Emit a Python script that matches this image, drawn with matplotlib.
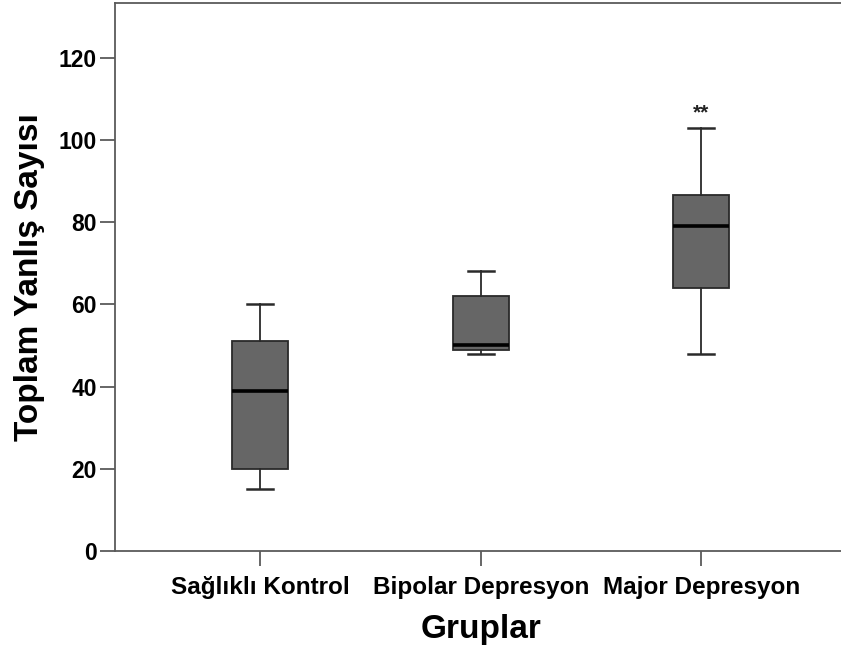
import matplotlib
matplotlib.use("Agg")
import matplotlib.pyplot as plt

plt.rcParams['font.family'] = ['Liberation Sans', 'DejaVu Sans']

# group summaries (box plot statistics)
groups = ['Sağlıklı Kontrol', 'Bipolar Depresyon', 'Major Depresyon']
whis_low = [15, 48, 48]
q1 = [20, 49, 64]
median = [39, 50, 79]
q3 = [51, 62, 86.5]
whis_high = [60, 68, 103]
marks = ['', '', '**']

stats = []
for i, g in enumerate(groups):
    stats.append({'label': g, 'whislo': whis_low[i], 'q1': q1[i], 'med': median[i],
                  'q3': q3[i], 'whishi': whis_high[i], 'fliers': []})

fig = plt.figure(figsize=(8.41, 6.53), dpi=100)
ax = fig.add_axes([0.1367, 0.1562, 0.870, 0.8392])

spine_col = '#5a5a5a'
line_col = '#2a2a2a'
ax.bxp(stats, positions=[1, 2, 3], widths=0.254, capwidths=0.118, patch_artist=True,
       boxprops=dict(facecolor='#666666', edgecolor=line_col, linewidth=1.3),
       medianprops=dict(color='black', linewidth=2.6),
       whiskerprops=dict(color=line_col, linewidth=1.3),
       capprops=dict(color=line_col, linewidth=1.8))

for i, m in enumerate(marks):
    if m:
        ax.text(i + 1, whis_high[i] + 3.6, m, ha='center', va='center', fontsize=15,
                fontweight='bold', color='#222222')

ax.set_xlim(0.34, 3.66)
ax.set_ylim(0, 133.3)
ax.set_yticks([0, 20, 40, 60, 80, 100, 120])

for side in ['top', 'left', 'bottom', 'right']:
    ax.spines[side].set_color(spine_col)
    ax.spines[side].set_linewidth(1.3)

ax.tick_params(axis='y', direction='out', length=11, width=1.3, color=spine_col, pad=2,
               labelsize=16.5)
ax.tick_params(axis='x', direction='out', length=11, width=1.3, color=spine_col, pad=7,
               labelsize=17.5)
for lab in ax.get_xticklabels() + ax.get_yticklabels():
    lab.set_fontweight('bold')

ax.set_xlabel('Gruplar', fontsize=24, fontweight='bold', labelpad=11)
ax.set_ylabel('Toplam Yanlış Sayısı', fontsize=24, fontweight='bold', labelpad=10)

fig.savefig('out.png', dpi=100)
